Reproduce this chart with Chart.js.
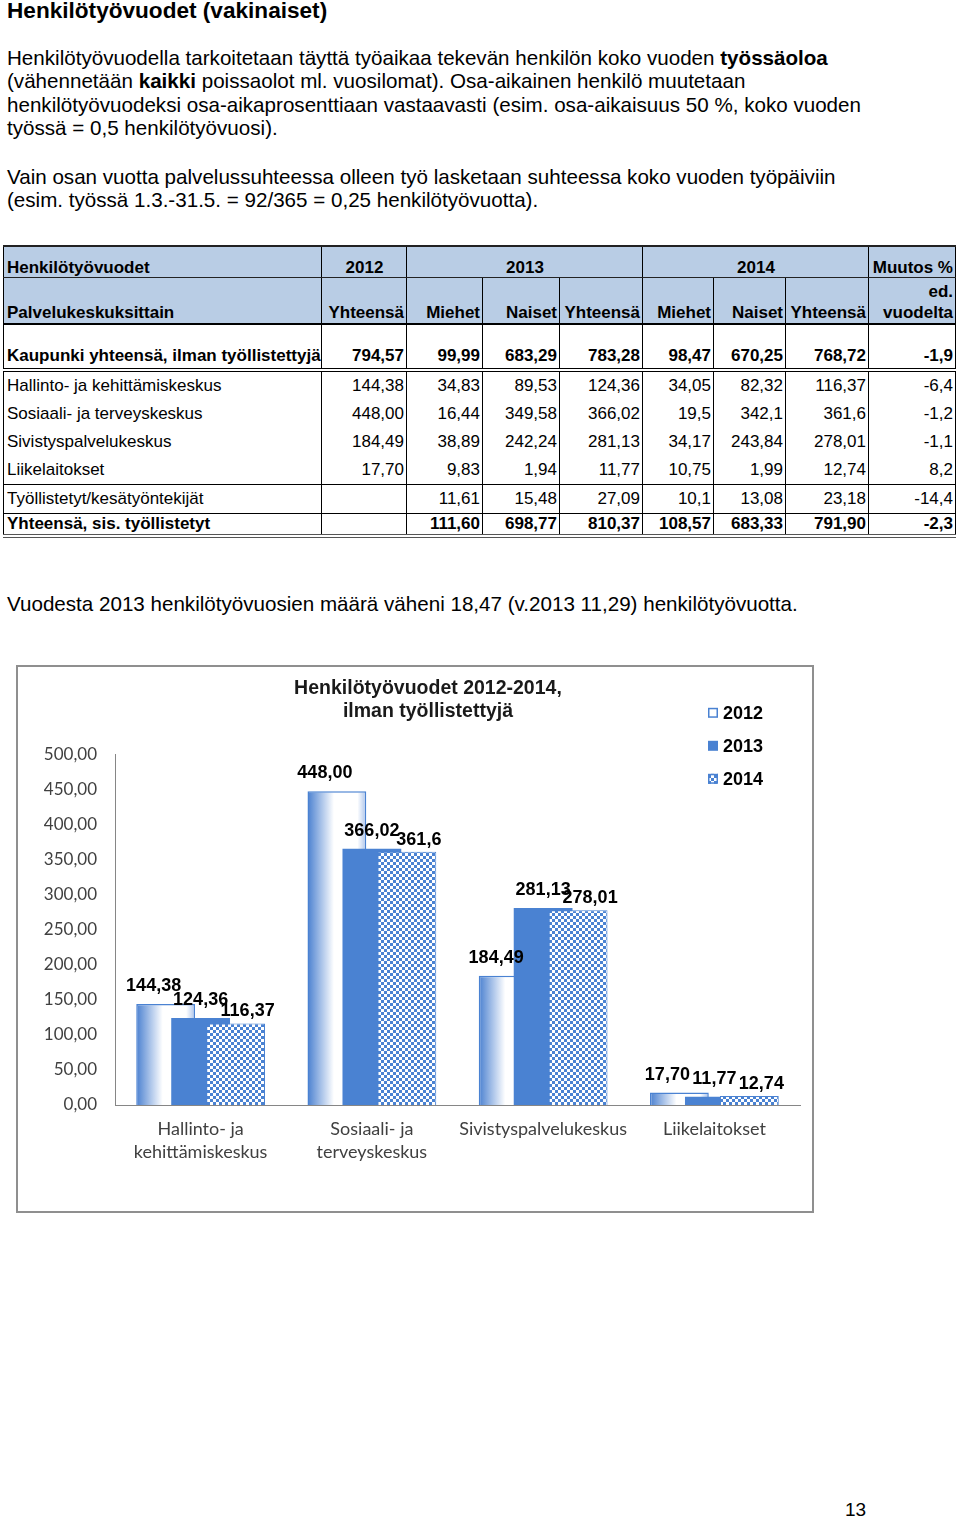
<!DOCTYPE html>
<html lang="fi">
<head>
<meta charset="utf-8">
<title>Henkilötyövuodet</title>
<script src="https://cdn.jsdelivr.net/npm/chart.js@4.4.0/dist/chart.umd.min.js"></script>
<style>
html, body { margin: 0; padding: 0; background: #fff; }
body { width: 960px; height: 1519px; position: relative; overflow: hidden;
  font-family: "Liberation Sans", Arial, sans-serif; color: #000; }
h1 { position: absolute; left: 7px; top: -2px; margin: 0; font-size: 22.6px; line-height: 26px; font-weight: bold; }
.txt { position: absolute; left: 7px; margin: 0; font-size: 20.6px; line-height: 23.4px; white-space: nowrap; }
table { position: absolute; left: 3px; top: 245px; border-collapse: collapse; table-layout: fixed;
  font-size: 17px; width: 952px; }
td { border-left: 1px solid #000; border-right: 1px solid #000; padding: 0 2px 4px 3px;
  text-align: right; vertical-align: bottom; white-space: nowrap; overflow: hidden; line-height: 20px; }
td:first-child { text-align: left; }
tr.h1 td { background: #b9cde5; border-top: 2px solid #222; border-bottom: 1px solid #222; font-weight: bold; text-align: center;
  height: 30px; padding-bottom: 0; line-height: 18px; }
tr.h1 td:first-child { text-align: left; }
tr.h1 td:last-child { text-align: right; }
tr.h2 td { background: #b9cde5; border-bottom: 2px solid #000; font-weight: bold; height: 45px; padding-bottom: 0; line-height: 21px; }
tr.tot td { font-weight: bold; height: 41px; border-bottom: 4px double #000; padding-bottom: 2px; }
tr.r td { height: 24px; }
tr.sep td { border-top: 1px solid #000; }
tr.sum td { font-weight: bold; height: 16px; border-top: 1px solid #000; border-bottom: 4px double #555; padding-bottom: 0; }
#chartBox { position: absolute; left: 16px; top: 665px; width: 798px; height: 548px;
  border: 2px solid #8f8f8f; box-sizing: border-box; }
#pageNo { position: absolute; left: 845px; top: 1498px; font-size: 19px; line-height: 24px; }
</style>
</head>
<body>
<h1>Henkilötyövuodet (vakinaiset)</h1>
<p class="txt" style="top:46px">Henkilötyövuodella tarkoitetaan täyttä työaikaa tekevän henkilön koko vuoden <b>työssäoloa</b><br>(vähennetään <b>kaikki</b> poissaolot ml. vuosilomat). Osa-aikainen henkilö muutetaan<br>henkilötyövuodeksi osa-aikaprosenttiaan vastaavasti (esim. osa-aikaisuus 50 %, koko vuoden<br>työssä = 0,5 henkilötyövuosi).</p>
<p class="txt" style="top:165px">Vain osan vuotta palvelussuhteessa olleen työ lasketaan suhteessa koko vuoden työpäiviin<br>(esim. työssä 1.3.-31.5. = 92/365 = 0,25 henkilötyövuotta).</p>

<table>
<colgroup>
<col style="width:318px"><col style="width:85px"><col style="width:76px"><col style="width:77px"><col style="width:83px"><col style="width:71px"><col style="width:72px"><col style="width:83px"><col style="width:87px">
</colgroup>
<tr class="h1"><td>Henkilötyövuodet</td><td>2012</td><td colspan="3">2013</td><td colspan="3">2014</td><td>Muutos %</td></tr>
<tr class="h2"><td>Palvelukeskuksittain</td><td>Yhteensä</td><td>Miehet</td><td>Naiset</td><td>Yhteensä</td><td>Miehet</td><td>Naiset</td><td>Yhteensä</td><td>ed.<br>vuodelta</td></tr>
<tr class="tot"><td>Kaupunki yhteensä, ilman työllistettyjä</td><td>794,57</td><td>99,99</td><td>683,29</td><td>783,28</td><td>98,47</td><td>670,25</td><td>768,72</td><td>-1,9</td></tr>
<tr class="r"><td>Hallinto- ja kehittämiskeskus</td><td>144,38</td><td>34,83</td><td>89,53</td><td>124,36</td><td>34,05</td><td>82,32</td><td>116,37</td><td>-6,4</td></tr>
<tr class="r"><td>Sosiaali- ja terveyskeskus</td><td>448,00</td><td>16,44</td><td>349,58</td><td>366,02</td><td>19,5</td><td>342,1</td><td>361,6</td><td>-1,2</td></tr>
<tr class="r"><td>Sivistyspalvelukeskus</td><td>184,49</td><td>38,89</td><td>242,24</td><td>281,13</td><td>34,17</td><td>243,84</td><td>278,01</td><td>-1,1</td></tr>
<tr class="r"><td>Liikelaitokset</td><td>17,70</td><td>9,83</td><td>1,94</td><td>11,77</td><td>10,75</td><td>1,99</td><td>12,74</td><td>8,2</td></tr>
<tr class="r sep"><td>Työllistetyt/kesätyöntekijät</td><td></td><td>11,61</td><td>15,48</td><td>27,09</td><td>10,1</td><td>13,08</td><td>23,18</td><td>-14,4</td></tr>
<tr class="sum"><td>Yhteensä, sis. työllistetyt</td><td></td><td>111,60</td><td>698,77</td><td>810,37</td><td>108,57</td><td>683,33</td><td>791,90</td><td>-2,3</td></tr>
</table>

<p class="txt" style="top:592px">Vuodesta 2013 henkilötyövuosien määrä väheni 18,47 (v.2013 11,29) henkilötyövuotta.</p>

<div id="chartBox"><canvas id="chart"></canvas></div>
<div id="pageNo">13</div>

<script>
// chart data (values as printed in the chart labels)
const CATEGORIES = [['Hallinto- ja', 'kehittämiskeskus'], ['Sosiaali- ja', 'terveyskeskus'], 'Sivistyspalvelukeskus', 'Liikelaitokset'];
const SERIES = ['2012', '2013', '2014'];
const VALUES_2012 = ['144,38', '448,00', '184,49', '17,70'];
const VALUES_2013 = ['124,36', '366,02', '281,13', '11,77'];
const VALUES_2014 = ['116,37', '361,6', '278,01', '12,74'];
const Y_MIN = 0, Y_MAX = 500, Y_STEP = 50;
// leading no-break spaces nudge the centred title right, as in the original
const PAD = '\u00a0'.repeat(7);
const TITLE = [PAD + 'Henkilötyövuodet 2012-2014,', PAD + 'ilman työllistettyjä'];

const toNum = s => parseFloat(s.replace(',', '.'));
const BLUE = '#4a82d2';
const CAT_PCT = 0.613, BAR_PCT = 1.68;

// blue/white checker for 2014
function checker() {
  const c = document.createElement('canvas');
  c.width = c.height = 6;
  const g = c.getContext('2d');
  g.fillStyle = '#ffffff';
  g.fillRect(0, 0, 6, 6);
  g.fillStyle = BLUE;
  g.fillRect(0, 0, 3, 3);
  g.fillRect(3, 3, 3, 3);
  return g.createPattern(c, 'repeat');
}
const CHECK = checker();

// cylinder-like gradient for the 2012 bars
function cylinder(c) {
  const chart = c.chart, x = chart.scales.x;
  if (!x || c.type !== 'data') return '#ffffff';
  const slot = (x.width / CATEGORIES.length) * CAT_PCT / SERIES.length;
  const cx = x.getPixelForValue(c.dataIndex) - slot;
  const w = slot * BAR_PCT;
  if (!isFinite(cx) || !isFinite(w) || w <= 0) return '#ffffff';
  const g = chart.ctx.createLinearGradient(cx - w / 2, 0, cx + w / 2, 0);
  g.addColorStop(0, '#4a80d0');
  g.addColorStop(0.45, '#ffffff');
  g.addColorStop(0.85, '#ffffff');
  g.addColorStop(1, '#a9c2ea');
  return g;
}

// later series drawn on top of earlier ones, like the original
const drawOrder = {
  id: 'drawOrder',
  beforeDatasetsDraw(chart) {
    chart.data.datasets.forEach((d, i) => {
      const m = chart.getDatasetMeta(i);
      if (!m.hidden) m.controller.draw();
    });
    return false;
  }
};

const valueLabels = {
  id: 'valueLabels',
  afterDraw(chart, args, o) {
    const ctx = chart.ctx;
    ctx.save();
    ctx.font = o.font;
    ctx.fillStyle = '#000';
    ctx.textAlign = 'center';
    ctx.textBaseline = 'middle';
    chart.data.datasets.forEach((ds, i) => {
      chart.getDatasetMeta(i).data.forEach((el, j) => {
        ctx.fillText(ds.labels[j], el.x + o.dx[i], el.y - o.dy[i]);
      });
    });
    ctx.restore();
  }
};

const sideLegend = {
  id: 'sideLegend',
  afterDraw(chart, args, o) {
    const {ctx, chartArea} = chart;
    ctx.save();
    chart.data.datasets.forEach((ds, i) => {
      const x = chartArea.right + o.dx, y = chartArea.top + o.dy + i * o.gap, s = o.box;
      ctx.fillStyle = o.fills[i];
      ctx.fillRect(x, y - s / 2, s, s);
      if (o.strokes[i]) {
        ctx.strokeStyle = BLUE;
        ctx.lineWidth = 1.5;
        ctx.strokeRect(x + 0.75, y - s / 2 + 0.75, s - 1.5, s - 1.5);
      }
      ctx.fillStyle = '#000';
      ctx.font = o.font;
      ctx.textBaseline = 'middle';
      ctx.fillText(ds.label, x + s + 5, y + 1);
    });
    ctx.restore();
  }
};

new Chart(document.getElementById('chart'), {
  type: 'bar',
  data: {
    labels: CATEGORIES,
    datasets: [
      { label: SERIES[0], data: VALUES_2012.map(toNum), labels: VALUES_2012,
        backgroundColor: cylinder, borderColor: BLUE, borderWidth: 1.5 },
      { label: SERIES[1], data: VALUES_2013.map(toNum), labels: VALUES_2013,
        backgroundColor: BLUE, borderWidth: 0 },
      { label: SERIES[2], data: VALUES_2014.map(toNum), labels: VALUES_2014,
        backgroundColor: CHECK, borderColor: BLUE, borderWidth: 1 }
    ]
  },
  options: {
    responsive: true,
    maintainAspectRatio: false,
    animation: false,
    devicePixelRatio: 1,
    categoryPercentage: CAT_PCT,
    barPercentage: BAR_PCT,
    layout: { padding: { left: 0, right: 12, top: 0, bottom: 0 } },
    scales: {
      x: {
        grid: { display: false, drawTicks: false },
        border: { display: true, color: '#868686', width: 1 },
        ticks: { color: '#404040', font: { family: 'Lato', size: 18, lineHeight: 1.28 }, padding: 13, maxRotation: 0, autoSkip: false },
        afterFit: s => { s.height = 106; }
      },
      y: {
        min: Y_MIN, max: Y_MAX,
        grid: { display: false, drawTicks: false },
        border: { display: true, color: '#868686', width: 1 },
        ticks: { stepSize: Y_STEP, color: '#404040', font: { family: 'Lato', size: 17 }, padding: 18,
          callback: v => v.toFixed(2).replace('.', ',') },
        afterFit: s => { s.width = 97; }
      }
    },
    plugins: {
      legend: { display: false },
      tooltip: { enabled: false },
      title: { display: true, text: TITLE, color: '#1a1a1a',
        font: { family: 'Liberation Sans', size: 19.5, weight: 'bold', lineHeight: 1.2 },
        padding: { top: 10, bottom: 31 } },
      valueLabels: { font: 'bold 18px "Liberation Sans", Arial', dx: [-12, 0, 12], dy: [18, 18, 12] },
      sideLegend: { dx: -92, dy: -42, gap: 33, box: 10, font: 'bold 18px "Liberation Sans", Arial',
        fills: ['#ffffff', BLUE, CHECK], strokes: [true, false, true] }
    }
  },
  plugins: [drawOrder, valueLabels, sideLegend]
});
</script>
</body>
</html>
